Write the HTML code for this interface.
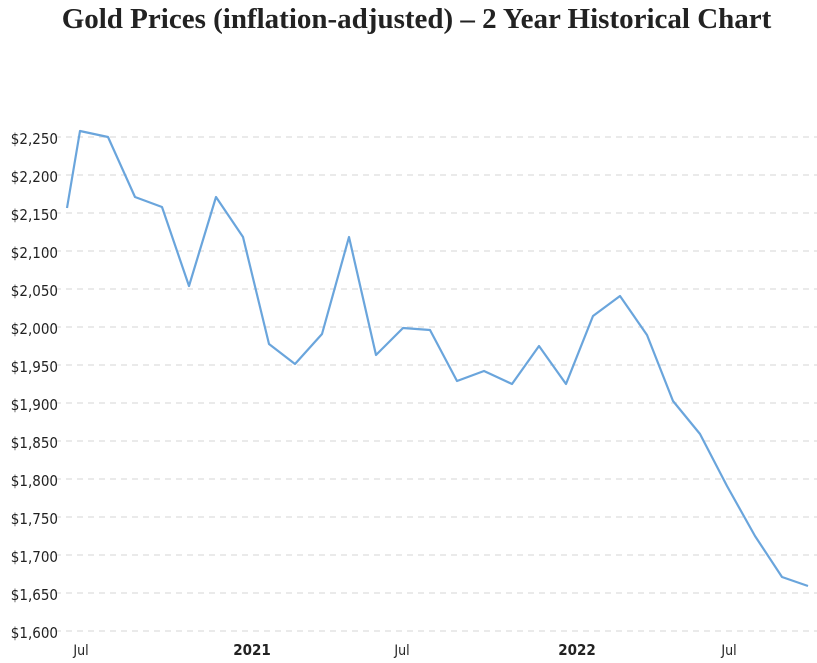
<!DOCTYPE html>
<html><head><meta charset="utf-8"><style>
html,body{margin:0;padding:0;background:#fff;width:817px;height:663px;overflow:hidden}
.t{position:absolute;left:0;width:833px;top:3px;text-align:center;font:bold 29px "Liberation Serif",serif;color:#222}
</style></head><body>
<div class="t">Gold Prices (inflation-adjusted) – 2 Year Historical Chart</div>
<svg width="817" height="663" style="position:absolute;left:0;top:0">
<g stroke="#e3e3e3" stroke-width="1.5" stroke-dasharray="6,5">
<line x1="44" x2="817" y1="137" y2="137"/><line x1="44" x2="817" y1="175" y2="175"/>
<line x1="44" x2="817" y1="213" y2="213"/><line x1="44" x2="817" y1="251" y2="251"/>
<line x1="44" x2="817" y1="289" y2="289"/><line x1="44" x2="817" y1="327" y2="327"/>
<line x1="44" x2="817" y1="365" y2="365"/><line x1="44" x2="817" y1="403" y2="403"/>
<line x1="44" x2="817" y1="441" y2="441"/><line x1="44" x2="817" y1="479" y2="479"/>
<line x1="44" x2="817" y1="517" y2="517"/><line x1="44" x2="817" y1="555" y2="555"/>
<line x1="44" x2="817" y1="593" y2="593"/><line x1="44" x2="817" y1="631" y2="631"/>
</g>
<g font-family="DejaVu Sans Condensed, DejaVu Sans, sans-serif" font-size="15" fill="#222" text-anchor="end">
<text x="58" y="144">$2,250</text><text x="58" y="182">$2,200</text><text x="58" y="220">$2,150</text>
<text x="58" y="258">$2,100</text><text x="58" y="296">$2,050</text><text x="58" y="334">$2,000</text>
<text x="58" y="372">$1,950</text><text x="58" y="410">$1,900</text><text x="58" y="448">$1,850</text>
<text x="58" y="486">$1,800</text><text x="58" y="524">$1,750</text><text x="58" y="562">$1,700</text>
<text x="58" y="600">$1,650</text><text x="58" y="638">$1,600</text>
</g>
<g font-family="DejaVu Sans Condensed, DejaVu Sans, sans-serif" font-size="14" fill="#222" text-anchor="middle">
<text x="81" y="655">Jul</text><text x="252" y="655" font-weight="bold" font-size="15">2021</text>
<text x="402" y="655">Jul</text><text x="577" y="655" font-weight="bold" font-size="15">2022</text>
<text x="729" y="655">Jul</text>
</g>
<polyline fill="none" stroke="#6aa5dc" stroke-width="2.2" stroke-linejoin="round" points="67,208 80,131 108,137 135,197 162,207 189,286 216,197 243,237 269,344 295,364 322,334 349,237 376,355 403,328 430,330 457,381 484,371 512,384 539,346 566,384 593,316 620,296 647,335 673,401 700,434 727,486 755,536 782,577 808,586"/>
</svg>
</body></html>
